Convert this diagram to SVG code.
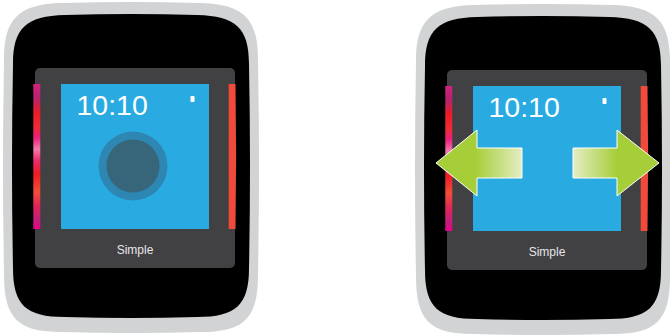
<svg xmlns="http://www.w3.org/2000/svg" width="670" height="335" viewBox="0 0 670 335">
<defs>
<style>
.bezel{fill:#d1d3d4}
.body{fill:#000}
.panel{fill:#414042}
.screen{fill:#29abe2}
.rstrip{fill:#ef4a3a}
.time{font-family:"Liberation Sans",Arial,sans-serif;font-size:28.5px;fill:#fff}
.label{font-family:"Liberation Sans",Arial,sans-serif;font-size:12px;fill:#e6e7e8;text-anchor:middle}
.batt{fill:#fff}
.arrow{stroke:#fff;stroke-width:1}
</style>
<linearGradient id="lstrip" gradientUnits="userSpaceOnUse" x1="30" y1="84" x2="44" y2="229">
<stop offset="0" stop-color="#d4217f"/>
<stop offset="0.1" stop-color="#b5236f"/>
<stop offset="0.2" stop-color="#ed1c24"/>
<stop offset="0.3" stop-color="#ee2a3a"/>
<stop offset="0.37" stop-color="#ec1f7a"/>
<stop offset="0.45" stop-color="#f27aab"/>
<stop offset="0.53" stop-color="#ea2a6a"/>
<stop offset="0.62" stop-color="#ed1c24"/>
<stop offset="0.74" stop-color="#f04e37"/>
<stop offset="0.84" stop-color="#e0245a"/>
<stop offset="0.93" stop-color="#c21f7a"/>
<stop offset="1" stop-color="#ec008c"/>
</linearGradient>
<linearGradient id="gl" gradientUnits="userSpaceOnUse" x1="476" y1="0" x2="522" y2="0">
<stop offset="0" stop-color="#a6ce39"/>
<stop offset="1" stop-color="#e4edc3"/>
</linearGradient>
<linearGradient id="gr" gradientUnits="userSpaceOnUse" x1="617" y1="0" x2="573" y2="0">
<stop offset="0" stop-color="#a6ce39"/>
<stop offset="1" stop-color="#e4edc3"/>
</linearGradient>
</defs>

<g id="watch-left">
<path class="bezel" d="M62,3 Q131,1 200,3 C245,4 258,20 258,60 Q260,167 258,274 C258,318 245,332 200,332 Q131,334 62,332 C17,332 4,318 4,274 Q2,167 4,60 C4,20 17,4 62,3 Z"/>
<path class="body" d="M65,15 Q131,13 197,15 C236,16 249,28 249,64 Q251,166 249,268 C249,305 236,317 197,317 Q131,319 65,317 C26,317 13,305 13,268 Q11,166 13,64 C13,28 26,16 65,15 Z"/>
<rect class="panel" x="35" y="68" width="200" height="200" rx="5"/>
<rect class="screen" x="61" y="84" width="148" height="145"/>
<rect x="33.3" y="84" width="7" height="145" fill="url(#lstrip)"/>
<path class="rstrip" d="M228.7,84 L235.5,84 Q236.8,156 235.5,229 L228.7,229 Z"/>
<text class="time" x="76.5" y="115">10:10</text>
<rect class="batt" x="190.5" y="96" width="4" height="6" rx="0.8"/>
<circle cx="133" cy="166" r="34.5" fill="#2d87b2"/>
<circle cx="133" cy="166" r="26.5" fill="#376579"/>
<text class="label" x="135" y="254">Simple</text>
</g>

<g id="watch-right" transform="translate(412,2)">
<path class="bezel" d="M62,3 Q131,1 200,3 C245,4 258,20 258,60 Q260,167 258,274 C258,318 245,332 200,332 Q131,334 62,332 C17,332 4,318 4,274 Q2,167 4,60 C4,20 17,4 62,3 Z"/>
<path class="body" d="M65,15 Q131,13 197,15 C236,16 249,28 249,64 Q251,166 249,268 C249,305 236,317 197,317 Q131,319 65,317 C26,317 13,305 13,268 Q11,166 13,64 C13,28 26,16 65,15 Z"/>
<rect class="panel" x="35" y="68" width="200" height="200" rx="5"/>
<rect class="screen" x="61" y="84" width="148" height="145"/>
<rect x="33.3" y="84" width="7" height="145" fill="url(#lstrip)"/>
<path class="rstrip" d="M228.7,84 L235.5,84 Q236.8,156 235.5,229 L228.7,229 Z"/>
<text class="time" x="76.5" y="115">10:10</text>
<rect class="batt" x="190.5" y="96" width="4" height="6" rx="0.8"/>
<text class="label" x="135" y="254">Simple</text>
</g>

<g id="connectors">
<polygon id="arrow-left" class="arrow" fill="url(#gl)" points="436,163 477,130 477,148 522,148 522,178 477,178 477,196"/>
<polygon id="arrow-right" class="arrow" fill="url(#gr)" points="659,163 617,130 617,148 573,148 573,178 617,178 617,196"/>
</g>
</svg>
